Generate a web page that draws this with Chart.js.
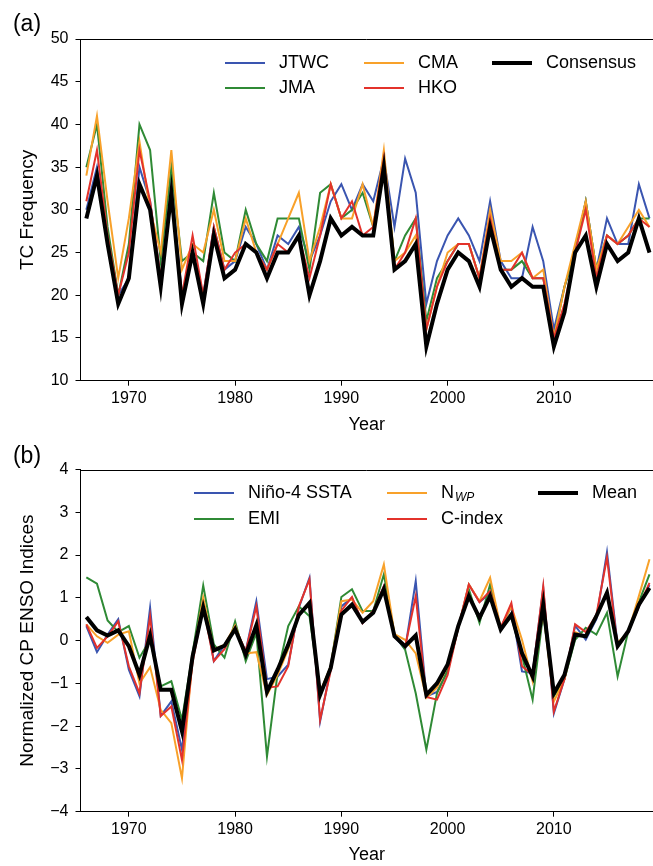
<!DOCTYPE html>
<html>
<head>
<meta charset="utf-8">
<script src="https://cdn.jsdelivr.net/npm/chart.js@4.4.1/dist/chart.umd.min.js"></script>
<style>
  html, body { margin: 0; padding: 0; background: #fff; }
  #wrap { position: relative; width: 653px; height: 866px; }
  canvas { position: absolute; left: 0; top: 0; }
</style>
</head>
<body>
<div id="wrap">
  <canvas id="chartA" width="653" height="866"></canvas>
  <canvas id="chartB" width="653" height="866"></canvas>
</div>
<script>
// Data
const years = [1966, 1967, 1968, 1969, 1970, 1971, 1972, 1973, 1974, 1975,
  1976, 1977, 1978, 1979, 1980, 1981, 1982, 1983, 1984, 1985,
  1986, 1987, 1988, 1989, 1990, 1991, 1992, 1993, 1994, 1995,
  1996, 1997, 1998, 1999, 2000, 2001, 2002, 2003, 2004, 2005,
  2006, 2007, 2008, 2009, 2010, 2011, 2012, 2013, 2014, 2015,
  2016, 2017, 2018, 2019];
const xTicks = [1970, 1980, 1990, 2000, 2010];

// (a) TC frequency
const jtwc = [30, 35, 27, 20, 22, 35, 31, 22, 33, 20, 25, 20, 28, 23, 24, 28, 26, 23, 27, 26,
  28, 24, 27, 31, 33, 30, 33, 31, 36, 28, 36, 32, 19, 24, 27, 29, 27, 24, 31, 24,
  22, 22, 28, 24, 16, 21, 25, 31, 23, 29, 26, 26, 33, 29];
const jma = [35, 40, 28, 20, 26, 40, 37, 24, 35, 24, 25, 24, 32, 25, 24, 30, 26, 24, 29, 29,
  29, 23, 32, 33, 29, 30, 32, 28, 36, 24, 27, 29, 17, 22, 24, 26, 26, 22, 29, 23,
  23, 24, 22, 22, 15, 21, 25, 31, 23, 27, 26, 27, 29, 29];
const cma = [34, 41, 31, 22, 29, 38, 30, 25, 37, 23, 26, 25, 30, 24, 24, 29, 25, 23, 26, 29,
  32, 24, 28, 33, 29, 29, 33, 28, 37, 24, 25, 27, 16, 21, 25, 26, 26, 22, 30, 24,
  24, 25, 22, 23, 15, 21, 26, 31, 23, 27, 26, 28, 30, 28];
const hko = [31, 37, 27, 20, 25, 37, 31, 22, 32, 20, 27, 20, 28, 23, 25, 26, 25, 23, 26, 25,
  27, 22, 27, 33, 29, 31, 27, 28, 36, 23, 25, 29, 16, 21, 24, 26, 26, 22, 29, 23,
  23, 25, 22, 22, 15, 19, 25, 30, 22, 27, 26, 27, 29, 28];
const consensus = [29, 34, 26, 19, 22, 33, 30, 21, 32, 19, 25, 19, 27, 22, 23, 26, 25, 22, 25, 25,
  27, 20, 24, 29, 27, 28, 27, 27, 35, 23, 24, 26, 14, 19, 23, 25, 24, 21, 28, 23,
  21, 22, 21, 21, 14, 18, 25, 27, 21, 26, 24, 25, 29, 25];

// (b) CP ENSO indices
const nino4 = [0.34, -0.27, 0.14, 0.5, -0.68, -1.3, 0.77, -1.76, -1.42, -2.55,
  -0.4, 0.9, -0.48, -0.1, 0.3, -0.25, 0.92, -0.9, -0.84, -0.56,
  0.77, 1.47, -1.89, -0.65, 0.8, 1.0, 0.41, 0.65, 1.27, 0.1,
  -0.2, 1.39, -1.3, -1.2, -0.7, 0.3, 1.31, 0.9, 1.1, 0.3,
  0.8, -0.72, -0.76, 1.23, -1.7, -0.9, 0.35, 0.02, 0.5, 2.07,
  -0.1, 0.2, 0.8, 1.3];
const emi = [1.48, 1.33, 0.47, 0.2, 0.34, -0.4, 0.02, -1.07, -0.95, -1.85,
  -0.29, 1.29, -0.09, -0.4, 0.45, -0.48, 0.18, -2.71, -0.76, 0.34,
  0.8, 0.57, -1.23, -0.6, 1.02, 1.2, 0.69, 0.69, 1.55, 0.14,
  -0.21, -1.23, -2.55, -1.23, -0.7, 0.3, 1.2, 0.41, 1.31, 0.25,
  0.55, -0.35, -1.38, 0.65, -1.3, -0.9, 0.02, 0.3, 0.14, 0.65,
  -0.84, 0.22, 0.9, 1.55];
const nwp = [0.38, 0.1, -0.05, 0.14, 0.22, -1.0, -0.62, -1.62, -1.93, -3.22,
  -0.4, 1.0, -0.2, -0.1, 0.35, -0.3, -0.27, -1.27, -0.8, -0.2,
  0.6, 0.85, -1.2, -0.6, 0.92, 0.96, 0.65, 0.92, 1.78, 0.15,
  0.02, -0.3, -1.34, -1.1, -0.6, 0.3, 1.31, 0.92, 1.47, 0.3,
  0.8, 0.02, -0.95, 0.7, -1.42, -0.9, 0.2, 0.1, 0.6, 1.15,
  -0.05, 0.2, 1.04, 1.9];
const cindex = [0.38, -0.17, 0.1, 0.45, -0.6, -1.23, 0.57, -1.76, -1.54, -2.79,
  -0.5, 0.8, -0.48, -0.2, 0.3, -0.25, 0.8, -1.1, -1.07, -0.6,
  0.8, 1.43, -1.85, -0.7, 0.7, 1.02, 0.41, 0.7, 1.27, 0.1,
  -0.15, 1.04, -1.32, -1.38, -0.8, 0.3, 1.31, 0.9, 1.16, 0.3,
  0.88, -0.6, -0.8, 1.27, -1.66, -0.9, 0.38, 0.2, 0.6, 1.94,
  -0.15, 0.2, 0.8, 1.35];
const meanIdx = [0.55, 0.24, 0.12, 0.24, -0.13, -0.8, 0.12, -1.15, -1.15, -2.12,
  -0.37, 0.77, -0.23, -0.12, 0.27, -0.33, 0.36, -1.2, -0.68, -0.1,
  0.6, 0.88, -1.27, -0.64, 0.61, 0.84, 0.44, 0.65, 1.2, 0.1,
  -0.13, 0.12, -1.27, -1.0, -0.56, 0.34, 1.04, 0.53, 1.04, 0.26,
  0.61, -0.29, -0.84, 0.84, -1.23, -0.8, 0.14, 0.1, 0.57, 1.12,
  -0.13, 0.22, 0.84, 1.23];

const BLUE = '#3a55b0', GREEN = '#2f8a35', ORANGE = '#f8a12a', RED = '#e3322b', BLACK = '#000';
const FONT = "'Liberation Sans', Arial, Helvetica, sans-serif";
const X_MIN = 1965.45, X_MAX = 2019.33;

const pts = vals => vals.map((v, i) => ({ x: years[i], y: v }));
const fmt = v => v < 0 ? '\u2212' + Math.abs(v) : String(v);

const series = (label, vals, color, width, order, sub) => ({
    label, data: pts(vals), borderColor: color, backgroundColor: color,
    borderWidth: width, pointRadius: 0, tension: 0, fill: false, order, sub
});

// Panel letter, top spine and a matplotlib-like column legend
const makeDecor = (panel, panelY, cols, rows) => ({
    id: 'decor',
    afterDraw(chart) {
        const { ctx, chartArea } = chart;
        ctx.save();
        // top spine
        ctx.strokeStyle = '#000';
        ctx.lineWidth = 1;
        ctx.beginPath();
        const ty = Math.round(chartArea.top) + 0.5;
        ctx.moveTo(chartArea.left, ty);
        ctx.lineTo(chartArea.right, ty);
        ctx.stroke();

        // panel label
        ctx.fillStyle = '#000';
        ctx.font = `23px ${FONT}`;
        ctx.textAlign = 'center';
        ctx.textBaseline = 'middle';
        ctx.fillText(panel, 27, panelY);

        // legend, filled column by column
        ctx.textAlign = 'left';
        chart.data.datasets.forEach((ds, i) => {
            const cx = cols[Math.floor(i / rows.length)];
            const cy = rows[i % rows.length];
            ctx.strokeStyle = ds.borderColor;
            ctx.lineWidth = ds.borderWidth;
            ctx.beginPath();
            ctx.moveTo(cx, cy);
            ctx.lineTo(cx + 40, cy);
            ctx.stroke();
            ctx.fillStyle = '#000';
            ctx.font = `18px ${FONT}`;
            ctx.fillText(ds.label, cx + 54, cy);
            if (ds.sub) {
                const w = ctx.measureText(ds.label).width;
                ctx.font = `italic 12px ${FONT}`;
                ctx.fillText(ds.sub, cx + 54 + w + 1, cy + 5);
            }
        });
        ctx.restore();
    }
});

const makeOptions = (yMin, yMax, yStep, yTitle, padTop, padBottom, xAxisH) => ({
    responsive: false,
    animation: false,
    events: [],
    layout: { padding: { top: padTop, bottom: padBottom, left: 0, right: 0 } },
    plugins: { legend: { display: false }, tooltip: { enabled: false } },
    scales: {
        x: {
            type: 'linear', min: X_MIN, max: X_MAX,
            afterBuildTicks: s => { s.ticks = xTicks.map(v => ({ value: v })); },
            afterFit: s => { s.height = xAxisH; },
            grid: { drawOnChartArea: false, drawTicks: true, tickLength: 5, tickColor: '#000', tickWidth: 1 },
            border: { display: true, color: '#000', width: 1 },
            ticks: { color: '#000', font: { family: FONT, size: 16 }, padding: 3, maxRotation: 0, autoSkip: false,
                     callback: v => String(v) },
            title: { display: true, text: 'Year', color: '#000', font: { family: FONT, size: 18 }, padding: { top: 0, bottom: 0 } }
        },
        y: {
            min: yMin, max: yMax,
            afterFit: s => { s.width = 80.5; },
            grid: { drawOnChartArea: false, drawTicks: true, tickLength: 5, tickColor: '#000', tickWidth: 1 },
            border: { display: true, color: '#000', width: 1 },
            ticks: { stepSize: yStep, color: '#000', font: { family: FONT, size: 16 }, padding: 7, callback: v => fmt(v) },
            title: { display: true, text: yTitle, color: '#000', font: { family: FONT, size: 19 }, padding: { top: 16, bottom: 0 } }
        }
    }
});

new Chart(document.getElementById('chartA'), {
    type: 'line',
    data: {
        datasets: [
            series('JTWC', jtwc, BLUE, 2, 5),
            series('JMA', jma, GREEN, 2, 4),
            series('CMA', cma, ORANGE, 2, 3),
            series('HKO', hko, RED, 2, 2),
            series('Consensus', consensus, BLACK, 4, 1)
        ]
    },
    options: makeOptions(10, 50, 5, 'TC Frequency', 39, 866 - 380.7 - 55, 55),
    plugins: [makeDecor('(a)', 25, [225, 364, 492], [63, 88])]
});

new Chart(document.getElementById('chartB'), {
    type: 'line',
    data: {
        datasets: [
            series('Niño-4 SSTA', nino4, BLUE, 2, 5),
            series('EMI', emi, GREEN, 2, 4),
            series('N', nwp, ORANGE, 2, 3, 'WP'),
            series('C-index', cindex, RED, 2, 2),
            series('Mean', meanIdx, BLACK, 4, 1)
        ]
    },
    options: makeOptions(-4, 4, 1, 'Normalized CP ENSO Indices', 469.5, 0, 866 - 811.7),
    plugins: [makeDecor('(b)', 457, [194, 387, 538], [493, 519])]
});
</script>
</body>
</html>
